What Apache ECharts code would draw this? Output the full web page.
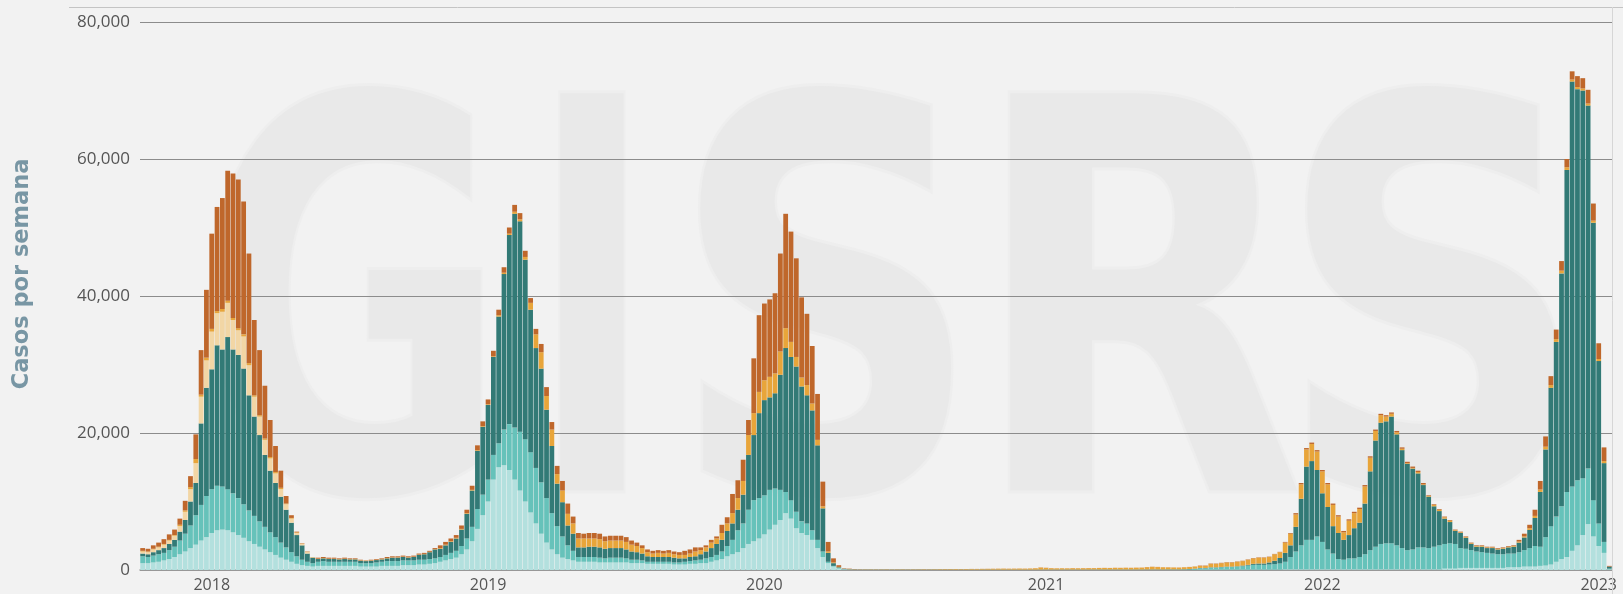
<!DOCTYPE html>
<html>
<head>
<meta charset="utf-8">
<script src="https://cdn.jsdelivr.net/npm/echarts@6/dist/echarts.min.js"></script>
<style>
  html, body { margin: 0; padding: 0; background: #f2f2f2; }
  #chart { width: 1623px; height: 594px; }
</style>
</head>
<body>
<div id="chart"></div>
<script>
// Weekly cases, first bar = 2017 week 40
const firstYear = 2017;
const firstWeek = 40;
const weeksInYear = { 2017: 52, 2018: 52, 2019: 52, 2020: 53, 2021: 52, 2022: 52, 2023: 52 };
const weekCount = 277;
const yTicks = [0, 20000, 40000, 60000, 80000];

const seriesNames = ['A(H1N1)pdm09', 'A(H3N2)', 'A no subtipificado', 'B Victoria', 'B linaje no determinado', 'B Yamagata'];
const seriesColors = ['#b3e0de', '#66c2ba', '#327a76', '#f2d6a5', '#e8a53a', '#bf672b'];

const lightTeal = [
  1000,1000,1100,1200,1400,1600,1900,2300,2700,3200,
  3700,4300,4800,5400,5800,5900,5800,5500,5100,4700,
  4200,3800,3400,3000,2600,2200,1800,1500,1200,900,
  700,600,500,600,600,600,600,600,600,600,
  600,500,500,500,500,600,600,600,600,700,
  700,700,800,800,900,1000,1200,1400,1600,1800,
  2300,3000,4200,6000,8000,10000,13200,15000,15300,14600,
  13200,11600,10000,8400,6800,5300,4000,3000,2300,1800,
  1600,1400,1200,1200,1200,1200,1100,1100,1100,1100,
  1100,1100,1000,1000,1000,900,900,900,900,900,
  800,800,800,900,900,1000,1000,1200,1400,1600,
  2000,2300,2600,3200,3800,4200,4600,5200,5900,6600,
  7300,8300,7500,6100,5400,5100,4400,3200,1900,1000,
  500,200,100,50,30,20,10,10,10,10,
  10,10,10,10,10,10,10,10,10,10,
  10,10,10,10,10,10,10,10,10,10,
  10,10,10,10,10,10,10,10,10,10,
  10,10,10,10,10,10,10,10,10,10,
  10,10,10,10,10,10,10,10,10,10,
  10,10,10,10,10,10,10,10,10,50,
  50,50,50,50,50,50,50,50,50,50,
  50,50,50,50,50,100,100,100,100,100,
  100,100,100,100,100,100,100,100,100,100,
  100,100,100,100,100,100,100,100,100,100,
  100,100,100,100,100,200,200,200,300,300,
  300,300,300,300,300,300,300,400,400,400,
  500,500,500,600,650,800,1200,1600,1900,2800,
  3600,5100,6700,4900,3500,2500,100
];

const midTeal = [
  1000,900,1000,1100,1100,1300,1500,2000,2600,3300,
  4300,5200,6000,6400,6500,6300,6000,5700,5400,4900,
  4500,4100,3700,3300,2900,2600,2200,1800,1400,1100,
  800,600,500,600,700,600,600,600,600,600,
  600,500,500,500,600,600,700,700,700,700,
  700,700,700,700,700,700,700,800,900,1000,
  1200,1600,2100,2900,3000,3200,3600,3500,5200,6700,
  7600,8600,9100,8800,8100,7500,6500,5300,4100,3100,
  2000,1400,700,700,700,700,700,600,700,700,
  700,600,500,500,400,300,300,300,300,300,
  300,300,400,400,500,500,700,700,800,1100,
  1500,2100,3200,3600,5000,6000,5900,5700,5800,5300,
  4400,3100,2700,2400,1700,1700,1400,1200,800,200,
  100,100,20,30,20,20,20,20,20,20,
  20,20,20,20,20,20,20,20,20,30,
  30,30,30,30,30,30,30,30,30,30,
  30,30,30,30,30,30,30,30,30,40,
  40,40,40,40,40,40,40,40,40,50,
  50,50,50,50,50,50,50,50,50,50,
  50,50,50,60,60,60,80,100,150,200,
  200,300,300,350,400,400,450,500,600,700,
  700,700,750,800,900,1100,1800,2600,3500,4300,
  4300,4800,4000,2900,2300,1500,1400,1600,1600,1800,
  2200,2800,3300,3700,3800,3800,3500,3100,2800,2900,
  3200,3200,3100,3300,3500,3600,3700,3600,2900,2800,
  2600,2400,2300,2200,2100,2000,2000,2000,2000,2200,
  2400,2700,3000,2800,4150,5600,6600,7700,9500,9400,
  9500,8300,8100,5300,3300,1600,100
];

const darkTeal = [
  400,400,500,600,700,900,1000,1300,2000,3500,
  4700,11900,15800,17500,20500,20000,22200,21000,20900,19800,
  16800,14500,12600,10500,9000,7900,6700,5500,4300,3100,
  2100,1200,800,400,400,400,400,350,400,350,
  350,350,300,350,350,350,400,500,500,500,
  400,500,700,800,1000,1300,1200,1400,1600,1800,
  2400,3600,5300,8500,9900,10900,14300,18500,22700,27600,
  31200,30700,26200,20800,17500,16600,12900,9800,6200,5000,
  2900,2500,1400,1400,1500,1500,1500,1400,1400,1400,
  1400,1300,1200,1100,1000,800,700,700,700,700,
  700,600,500,600,600,800,1000,1300,1600,1700,
  2200,2400,3000,4200,8000,9500,12400,13900,13500,13900,
  16800,21000,20900,21200,19700,18700,17500,13800,6300,1300,
  400,100,60,30,20,10,10,10,10,10,
  10,10,10,10,10,10,10,10,10,10,
  10,10,10,10,10,10,10,10,10,10,
  10,10,10,10,10,10,10,10,10,10,
  10,10,10,10,10,10,10,10,10,10,
  10,10,10,10,10,10,10,10,10,20,
  20,20,20,20,20,20,20,30,40,50,
  50,50,50,50,50,50,50,100,100,150,
  200,200,300,500,800,1300,1700,3600,6800,10700,
  11500,9700,7100,6200,4000,3800,2900,3400,4400,5000,
  7400,11500,15500,17700,17800,18500,16200,14300,12600,11800,
  10800,9100,7500,5900,5000,3700,3100,1900,2200,1600,
  900,700,800,700,800,700,800,900,1000,1400,
  1850,2650,4100,8000,12800,20200,25500,34000,47000,59100,
  57100,56600,53000,40500,23700,11500,300
];

const cream = [
  300,300,400,400,500,500,600,800,1200,1800,
  2900,3900,4000,5500,4700,5500,5000,4300,3600,4700,
  4400,2900,2700,2200,1800,1400,1100,800,600,300,
  200,200,50,0,0,0,0,0,0,0,
  0,0,0,0,0,0,0,0,0,0,
  0,0,0,0,0,0,0,0,0,0,
  0,0,0,0,0,0,0,0,0,0,
  0,0,0,0,0,0,0,0,0,0,
  0,0,0,0,0,0,0,0,0,0,
  0,0,0,0,0,0,0,0,0,0,
  0,0,0,0,0,0,0,0,0,0,
  0,0,0,0,0,0,0,0,0,0,
  0,0,0,0,0,0,0,0,0,0,
  0,0,0,0,0,0,0,0,0,0,
  0,0,0,0,0,0,0,0,0,0,
  0,0,0,0,0,0,0,0,0,0,
  0,0,0,0,0,0,0,0,0,0,
  0,0,0,0,0,0,0,0,0,0,
  0,0,0,0,0,0,0,0,0,0,
  0,0,0,0,0,0,0,0,0,0,
  0,0,0,0,0,0,0,0,0,0,
  0,0,0,0,0,0,0,0,0,0,
  0,0,0,0,0,0,0,0,0,0,
  0,0,0,0,0,0,0,0,0,0,
  0,0,0,0,0,0,0,0,0,0,
  0,0,0,0,0,0,0,0,0,0,
  0,0,0,0,0,0,0,0,0,0,
  0,0,0,0,0,0,0
];

const orange = [
  100,100,100,100,100,100,100,200,200,300,
  600,300,400,400,300,400,300,300,300,300,
  300,200,200,200,200,200,200,100,100,100,
  50,50,50,50,50,50,50,50,50,50,
  50,50,50,50,50,50,50,50,50,50,
  50,50,50,50,50,50,100,100,100,100,
  100,100,100,100,100,100,100,200,200,200,
  300,300,400,1000,2000,2400,2000,2400,1400,1700,
  1700,1500,1300,1300,1200,1200,1200,1100,1100,1100,
  1100,1100,1000,900,800,600,500,600,500,600,
  500,500,500,500,700,600,600,800,800,1000,
  1100,1500,1700,2000,2900,3200,3100,2900,3000,2900,
  3400,2900,2200,1400,1300,1500,1000,800,300,200,
  100,50,20,40,30,30,40,40,40,40,
  50,40,50,50,40,50,50,60,50,60,
  70,80,80,90,80,90,100,100,110,120,
  130,140,150,140,150,160,150,170,200,300,
  250,200,180,190,180,200,190,200,210,200,
  220,230,220,250,240,260,250,270,280,330,
  380,350,320,300,280,270,290,300,310,300,
  300,500,500,550,600,600,650,650,750,800,
  850,850,800,950,850,1500,1700,1800,2100,2500,
  2500,2700,3200,3300,3100,2400,1100,2100,2200,2000,
  2500,2000,1400,1100,700,400,300,200,100,100,
  200,100,100,200,200,200,200,100,100,100,
  100,100,100,100,100,100,100,100,100,150,
  150,250,300,350,400,400,400,400,400,300,
  300,300,300,300,300,300,0
];

const brown = [
  400,400,500,600,700,800,800,900,1400,1600,
  3600,6500,9900,13900,15200,16200,19000,21100,21700,19400,
  16000,11000,9500,7700,5400,3800,2500,1100,400,100,
  50,50,0,150,150,150,150,100,150,100,
  100,100,50,100,100,100,150,150,150,150,
  150,150,150,150,150,150,400,400,400,400,
  500,500,600,700,700,700,800,800,800,900,
  1000,900,900,700,800,1200,1300,1100,1200,1400,
  1500,1000,800,700,800,800,800,700,700,700,
  700,700,600,500,400,400,400,400,400,400,
  400,400,600,600,600,400,300,400,300,1200,
  900,2800,2600,3100,2200,8000,11200,11200,11300,11700,
  14300,16700,16100,14400,11700,10400,8400,6700,3600,1400,
  600,250,50,50,30,20,10,10,10,10,
  10,10,10,10,10,10,10,10,10,10,
  10,10,10,10,10,10,10,10,10,10,
  10,10,10,10,10,10,10,10,10,20,
  20,10,10,10,10,10,10,10,10,10,
  10,10,10,10,10,10,10,10,10,20,
  20,20,10,10,10,10,10,10,10,50,
  50,50,50,50,50,50,50,50,50,50,
  50,50,50,50,50,100,100,200,200,200,
  200,200,200,200,200,200,200,200,200,200,
  200,200,200,200,200,200,200,200,200,200,
  200,200,100,100,100,100,100,100,100,100,
  100,100,100,100,100,100,100,100,100,250,
  400,500,900,1250,1500,1300,1400,1400,1200,1200,
  1600,1500,2000,2500,2300,2000,100
];

// week categories like "2017-W40"
const weeks = [];
let yr = firstYear, wk = firstWeek;
while (weeks.length < weekCount) {
  weeks.push(yr + '-W' + String(wk).padStart(2, '0'));
  wk++;
  if (wk > weeksInYear[yr]) { wk = 1; yr++; }
}

const seriesData = [lightTeal, midTeal, darkTeal, cream, orange, brown];

const chart = echarts.init(document.getElementById('chart'));

// big pale watermark letters behind the plot
const watermark = [
  { ch: 'G', x: 352, sx: 0.70 },
  { ch: 'I', x: 592, sx: 0.62 },
  { ch: 'S', x: 826, sx: 0.80 },
  { ch: 'R', x: 1138, sx: 0.80 },
  { ch: 'S', x: 1433, sx: 0.80 }
].map(l => ({
  type: 'text',
  x: l.x,
  y: 349,
  scaleX: l.sx,
  z: -10,
  silent: true,
  style: {
    text: l.ch,
    font: 'bold 545px "DejaVu Sans"',
    fill: '#e9e9e9',
    stroke: '#eeeeee',
    lineWidth: 6,
    textAlign: 'center',
    textVerticalAlign: 'middle',
    align: 'center',
    verticalAlign: 'middle'
  }
}));

const option = {
  backgroundColor: '#f2f2f2',
  animation: false,
  grid: { left: 140, right: 11, top: 22, bottom: 24, containLabel: false },
  graphic: watermark.concat([
    {
      type: 'line', z: 5, silent: true,
      shape: { x1: 69, y1: 7.5, x2: 1623, y2: 7.5 },
      style: { stroke: '#c4c4c4', lineWidth: 1 }
    },
    {
      type: 'line', z: 5, silent: true,
      shape: { x1: 1612.5, y1: 7, x2: 1612.5, y2: 594 },
      style: { stroke: '#d6d6d6', lineWidth: 1 }
    },
    {
      type: 'text', x: 22, y: 274, rotation: Math.PI / 2, silent: true,
      style: {
        text: 'Casos por semana',
        font: 'bold 22.5px "DejaVu Sans"',
        fill: '#7896a4',
        textAlign: 'center', textVerticalAlign: 'middle',
        align: 'center', verticalAlign: 'middle'
      }
    }
  ]),
  xAxis: {
    type: 'category',
    data: weeks,
    axisLine: { show: true, lineStyle: { color: '#9a9a9a', width: 1.5 } },
    axisTick: { show: false },
    axisLabel: {
      interval: (idx, val) => val.endsWith('-W01'),
      formatter: val => val.slice(0, 4),
      color: '#555',
      fontSize: 16,
      fontFamily: 'Open Sans',
      margin: 7
    },
    splitLine: { show: false }
  },
  yAxis: {
    type: 'value',
    min: yTicks[0],
    max: yTicks[yTicks.length - 1],
    interval: yTicks[1] - yTicks[0],
    axisLine: { show: false },
    axisTick: { show: false },
    axisLabel: {
      formatter: v => v.toLocaleString('en-US'),
      color: '#555',
      fontSize: 17,
      fontFamily: 'Open Sans',
      margin: 10
    },
    splitLine: { lineStyle: { color: '#8c8c8c', width: 1.2 } }
  },
  series: seriesNames.map((name, k) => ({
    name: name,
    type: 'bar',
    stack: 'casos',
    data: seriesData[k],
    barCategoryGap: '10%',
    itemStyle: { color: seriesColors[k] },
    emphasis: { disabled: true }
  }))
};

chart.setOption(option);
</script>
</body>
</html>
